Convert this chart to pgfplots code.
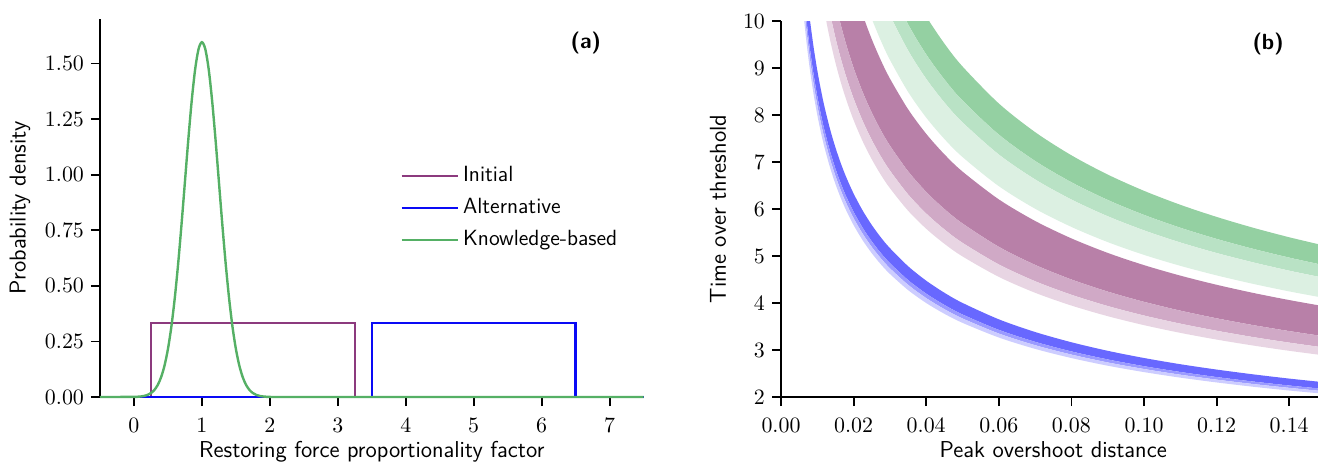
\documentclass[border=0pt]{standalone}
\usepackage{pgfplots}
\usepackage{pgfplotstable}
\pgfplotsset{compat=1.18}
\usepgfplotslibrary{fillbetween}
\definecolor{cInit}{HTML}{8C3A7E}
\definecolor{cAlt}{HTML}{0A0AF5}
\definecolor{cKnow}{HTML}{55B065}
\definecolor{bD}{HTML}{6868FF}
\definecolor{bM}{HTML}{9A9AFF}
\definecolor{bL}{HTML}{CDCDFF}
\definecolor{pD}{HTML}{B880A8}
\definecolor{pM}{HTML}{D0A9C6}
\definecolor{pL}{HTML}{E8D5E3}
\definecolor{gD}{HTML}{94D0A2}
\definecolor{gM}{HTML}{B9E2C5}
\definecolor{gL}{HTML}{DCF0E2}
\pgfplotstableread{
x b1 b2 b3 b4 p1 p2 p3 p4 g1 g2 g3 g4
0.0060 11.554 10.844 10.599 10.328 19.623 16.434 15.247 14.408 26.078 23.987 22.644 20.514
0.0065 11.101 10.419 10.183 9.922 18.853 15.789 14.648 13.842 25.054 23.045 21.755 19.708
0.0070 10.697 10.040 9.813 9.562 18.167 15.215 14.115 13.338 24.143 22.207 20.964 18.992
0.0075 10.335 9.699 9.480 9.238 17.551 14.699 13.637 12.886 23.325 21.454 20.253 18.348
0.0080 10.006 9.391 9.179 8.944 16.994 14.232 13.204 12.477 22.584 20.772 19.610 17.765
0.0090 9.434 8.854 8.654 8.433 16.022 13.419 12.449 11.764 21.293 19.585 18.489 16.750
0.0100 8.950 8.400 8.210 8.000 15.200 12.730 11.810 11.160 20.200 18.580 17.540 15.890
0.0110 8.534 8.009 7.828 7.628 14.493 12.138 11.261 10.641 19.261 17.716 16.724 15.151
0.0120 8.170 7.668 7.495 7.303 13.876 11.621 10.781 10.188 18.441 16.962 16.012 14.506
0.0135 7.703 7.230 7.066 6.886 13.083 10.957 10.165 9.605 17.386 15.992 15.097 13.677
0.0150 7.308 6.859 6.703 6.532 12.411 10.394 9.643 9.112 16.493 15.171 14.321 12.974
0.0165 6.968 6.539 6.391 6.228 11.833 9.910 9.194 8.688 15.726 14.465 13.655 12.370
0.0180 6.671 6.261 6.120 5.963 11.330 9.489 8.803 8.319 15.057 13.850 13.074 11.844
0.0200 6.329 5.940 5.805 5.657 10.748 9.001 8.351 7.891 14.283 13.138 12.403 11.236
0.0225 5.967 5.600 5.474 5.334 10.134 8.487 7.874 7.440 13.467 12.387 11.694 10.594
0.0250 5.661 5.313 5.193 5.060 9.614 8.052 7.470 7.059 12.777 11.752 11.094 10.050
0.0275 5.397 5.065 4.951 4.824 9.166 7.676 7.121 6.729 12.181 11.204 10.577 9.582
0.0300 5.168 4.850 4.740 4.619 8.776 7.350 6.819 6.444 11.663 10.728 10.128 9.175
0.0350 4.784 4.490 4.388 4.276 8.124 6.804 6.312 5.965 10.797 9.931 9.375 8.493
0.0400 4.475 4.200 4.105 4.000 7.600 6.365 5.905 5.580 10.100 9.290 8.770 7.945
0.0450 4.219 3.960 3.870 3.771 7.165 6.001 5.567 5.261 9.522 8.759 8.268 7.491
0.0500 4.002 3.756 3.672 3.578 6.797 5.693 5.281 4.991 9.033 8.309 7.844 7.106
0.0600 3.653 3.429 3.351 3.266 6.205 5.196 4.821 4.556 8.246 7.584 7.160 6.486
0.0700 3.383 3.175 3.103 3.024 5.746 4.812 4.464 4.218 7.636 7.023 6.630 6.006
0.0800 3.165 2.970 2.903 2.829 5.375 4.501 4.176 3.946 7.143 6.570 6.202 5.619
0.0900 2.983 2.800 2.736 2.666 5.066 4.243 3.936 3.720 6.733 6.193 5.846 5.296
0.1000 2.830 2.656 2.596 2.530 4.806 4.025 3.734 3.529 6.387 5.875 5.546 5.024
0.1100 2.698 2.533 2.475 2.412 4.583 3.838 3.561 3.365 6.090 5.602 5.288 4.791
0.1200 2.584 2.425 2.370 2.310 4.388 3.675 3.410 3.222 5.832 5.364 5.064 4.588
0.1300 2.483 2.330 2.277 2.219 4.216 3.531 3.276 3.096 5.603 5.154 4.866 4.408
0.1400 2.392 2.245 2.195 2.138 4.063 3.403 3.157 2.983 5.399 4.966 4.688 4.247
0.1500 2.311 2.169 2.120 2.066 3.925 3.287 3.049 2.882 5.216 4.797 4.529 4.103
}\bands
\pgfplotsset{
  common/.style={
    scale only axis,
    axis x line*=bottom, axis y line*=left,
    axis line style={line width=0.9pt,-},
    tick align=outside,
    major tick length=4.5pt,
    tick style={line width=0.9pt,black},
    label style={font=\sffamily\fontsize{11.5}{13.8}\selectfont},
    tick label style={font=\fontsize{10.5}{12.6}\selectfont},
    xticklabel style={yshift=-2.5pt},
    xlabel style={at={(axis description cs:0.5,0)}, anchor=base, yshift=-30pt},
  }
}
\begin{document}
\begin{tikzpicture}
% ---------- panel (a)
\begin{axis}[common,
  at={(50pt,33pt)}, anchor=south west,
  width=271.8pt, height=189pt,
  xmin=-0.5, xmax=7.5, ymin=0, ymax=1.7,
  xtick={0,1,2,3,4,5,6,7},
  ytick={0,0.25,0.5,0.75,1,1.25,1.5},
  yticklabel style={/pgf/number format/fixed,/pgf/number format/fixed zerofill,/pgf/number format/precision=2},
  xlabel={Restoring force proportionality factor},
  ylabel={Probability density},
  ylabel style={at={(axis description cs:-0.147,0.5)}, anchor=center},
  legend style={draw=none, fill=none, at={(axis cs:3.92,0.85)}, anchor=west,
    font=\sffamily\fontsize{11}{13.2}\selectfont, row sep=5.5pt, inner sep=0pt,
    nodes={text height=8pt, text depth=2.5pt, inner ysep=0pt}},
  legend cell align=left,
  legend image code/.code={\draw[#1] (0pt,0pt) -- (22.5pt,0pt); \path (0pt,0pt) -- (28pt,0pt);},
  clip=false,
]
\addplot[cInit, line width=1.2pt] coordinates {(-0.5,0) (0.25,0) (0.25,0.3333) (3.25,0.3333) (3.25,0) (7.5,0)};
\addlegendentry{Initial}
\addplot[cAlt, line width=1.2pt] coordinates {(-0.5,0) (3.5,0) (3.5,0.3333) (6.5,0.3333) (6.5,0) (7.5,0)};
\addlegendentry{Alternative}
\addplot[cKnow, line width=1.2pt, smooth] coordinates {
(-0.5,0) (0,0.0005) (0.05,0.0012) (0.1,0.0024) (0.15,0.0049) (0.2,0.0095) (0.25,0.0177)
(0.3,0.0317) (0.35,0.0543) (0.4,0.0896) (0.45,0.1419) (0.5,0.2160) (0.55,0.3158)
(0.6,0.4437) (0.65,0.5989) (0.7,0.7768) (0.75,0.9679) (0.8,1.1588) (0.85,1.3329)
(0.9,1.4731) (0.95,1.5642) (1.0,1.5958) (1.05,1.5642) (1.1,1.4731) (1.15,1.3329)
(1.2,1.1588) (1.25,0.9679) (1.3,0.7768) (1.35,0.5989) (1.4,0.4437) (1.45,0.3158)
(1.5,0.2160) (1.55,0.1419) (1.6,0.0896) (1.65,0.0543) (1.7,0.0317) (1.75,0.0177)
(1.8,0.0095) (1.85,0.0049) (1.9,0.0024) (1.95,0.0012) (2.0,0.0005) (2.5,0) (7.5,0)};
\addlegendentry{Knowledge-based}
\node[font=\sffamily\bfseries\fontsize{11}{13.2}\selectfont] at (axis cs:6.65,1.59) {(a)};
\end{axis}
% ---------- panel (b)
\begin{axis}[common,
  at={(390.5pt,33pt)}, anchor=south west,
  width=272.25pt, height=188pt,
  xmin=0, xmax=0.15, ymin=2, ymax=10,
  xtick={0,0.02,0.04,0.06,0.08,0.1,0.12,0.14},
  ytick={2,3,4,5,6,7,8,9,10},
  xticklabel style={/pgf/number format/fixed,/pgf/number format/fixed zerofill,/pgf/number format/precision=2},
  scaled x ticks=false,
  xlabel={Peak overshoot distance},
  ylabel={Time over threshold},
  ylabel style={at={(axis description cs:-0.1157,0.5)}, anchor=center},
  axis on top,
]
\addplot[name path=g1, draw=none, smooth] table[x=x,y=g1]{\bands};
\addplot[name path=g2, draw=none, smooth] table[x=x,y=g2]{\bands};
\addplot[name path=g3, draw=none, smooth] table[x=x,y=g3]{\bands};
\addplot[name path=g4, draw=none, smooth] table[x=x,y=g4]{\bands};
\addplot[name path=p1, draw=none, smooth] table[x=x,y=p1]{\bands};
\addplot[name path=p2, draw=none, smooth] table[x=x,y=p2]{\bands};
\addplot[name path=p3, draw=none, smooth] table[x=x,y=p3]{\bands};
\addplot[name path=p4, draw=none, smooth] table[x=x,y=p4]{\bands};
\addplot[name path=b1, draw=none, smooth] table[x=x,y=b1]{\bands};
\addplot[name path=b2, draw=none, smooth] table[x=x,y=b2]{\bands};
\addplot[name path=b3, draw=none, smooth] table[x=x,y=b3]{\bands};
\addplot[name path=b4, draw=none, smooth] table[x=x,y=b4]{\bands};
\addplot[gD] fill between[of=g1 and g2];
\addplot[gM] fill between[of=g2 and g3];
\addplot[gL] fill between[of=g3 and g4];
\addplot[pD] fill between[of=p1 and p2];
\addplot[pM] fill between[of=p2 and p3];
\addplot[pL] fill between[of=p3 and p4];
\addplot[bD] fill between[of=b1 and b2];
\addplot[bM] fill between[of=b2 and b3];
\addplot[bL] fill between[of=b3 and b4];
\node[font=\sffamily\bfseries\fontsize{11}{13.2}\selectfont] at (axis cs:0.1342,9.51) {(b)};
\end{axis}
\pgfresetboundingbox
\path[use as bounding box] (0,0) rectangle (659pt,231.5pt);
\end{tikzpicture}
\end{document}
